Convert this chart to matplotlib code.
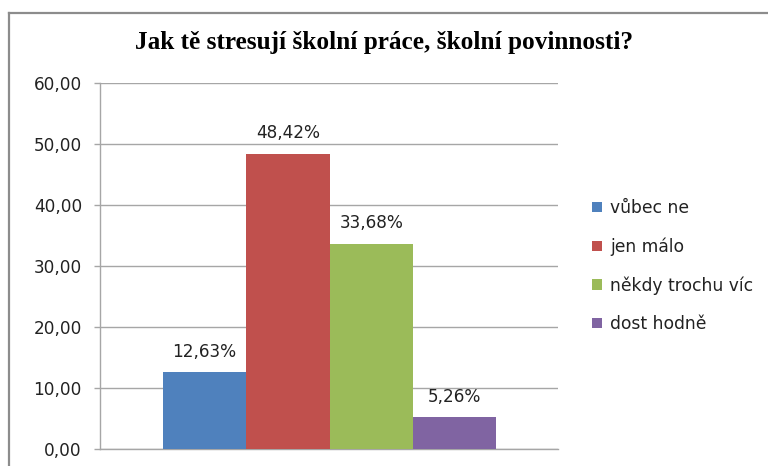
import matplotlib
matplotlib.use("Agg")
import matplotlib.pyplot as plt
from matplotlib.lines import Line2D
from matplotlib.patches import Patch

categories = ["vůbec ne", "jen málo", "někdy trochu víc", "dost hodně"]
values = [12.63, 48.42, 33.68, 5.26]
labels = ["12,63%", "48,42%", "33,68%", "5,26%"]
colors = ["#4F81BD", "#C0504D", "#9BBB59", "#8064A2"]
yticks = [0, 10, 20, 30, 40, 50, 60]
ytick_labels = ["0,00", "10,00", "20,00", "30,00", "40,00", "50,00", "60,00"]
title = "Jak tě stresují školní práce, školní povinnosti?"

W, H = 768, 466
fig = plt.figure(figsize=(W / 100, H / 100), dpi=100)
fig.patch.set_facecolor("white")

ax = fig.add_axes([100 / W, (H - 449) / H, (558 - 100) / W, (449 - 83) / H])
xs = list(range(len(values)))
ax.bar(xs, values, width=1.0, color=colors, edgecolor="none", zorder=3)
ax.set_xlim(-1.257, 4.243)
ax.set_ylim(0, 60)
ax.set_yticks(yticks)
ax.set_yticklabels(ytick_labels, fontsize=12.2, family="DejaVu Sans", color="#222222")
ax.set_xticks([])
ax.grid(axis="y", color="#a6a6a6", linewidth=1.0, zorder=0)
for s in ["top", "right"]:
    ax.spines[s].set_visible(False)
for s in ["left", "bottom"]:
    ax.spines[s].set_color("#a6a6a6")
    ax.spines[s].set_linewidth(1.0)
ax.tick_params(axis="y", length=4, width=1, color="#a6a6a6", pad=9)

for x, v, lab in zip(xs, values, labels):
    ax.annotate(lab, (x, v), xytext=(0, 14.5), textcoords="offset points",
                ha="center", va="center", fontsize=12.2, family="DejaVu Sans",
                color="#222222")

fig.text(384 / W, (H - 42) / H, title, ha="center", va="center",
         fontsize=18.2, fontweight="bold", family="Liberation Serif")

handles = [Patch(facecolor=c, edgecolor="none") for c in colors]
leg = fig.legend(handles, categories, loc="center left",
                 bbox_to_anchor=(577 / W, (H - 266) / H),
                 frameon=False, prop={"family": "DejaVu Sans", "size": 12.3},
                 handlelength=0.55, handleheight=0.55, handletextpad=0.5,
                 labelspacing=1.19)
for t in leg.get_texts():
    t.set_color("#222222")

# outer frame (partially cut off at right and bottom)
fig.add_artist(Line2D([9 / W, 9 / W], [0, (H - 13) / H], color="#8c8c8c", linewidth=1.6,
                      transform=fig.transFigure))
fig.add_artist(Line2D([9 / W, 1.0], [(H - 13) / H, (H - 13) / H], color="#8c8c8c",
                      linewidth=1.6, transform=fig.transFigure))

fig.savefig("out.png", dpi=100)
